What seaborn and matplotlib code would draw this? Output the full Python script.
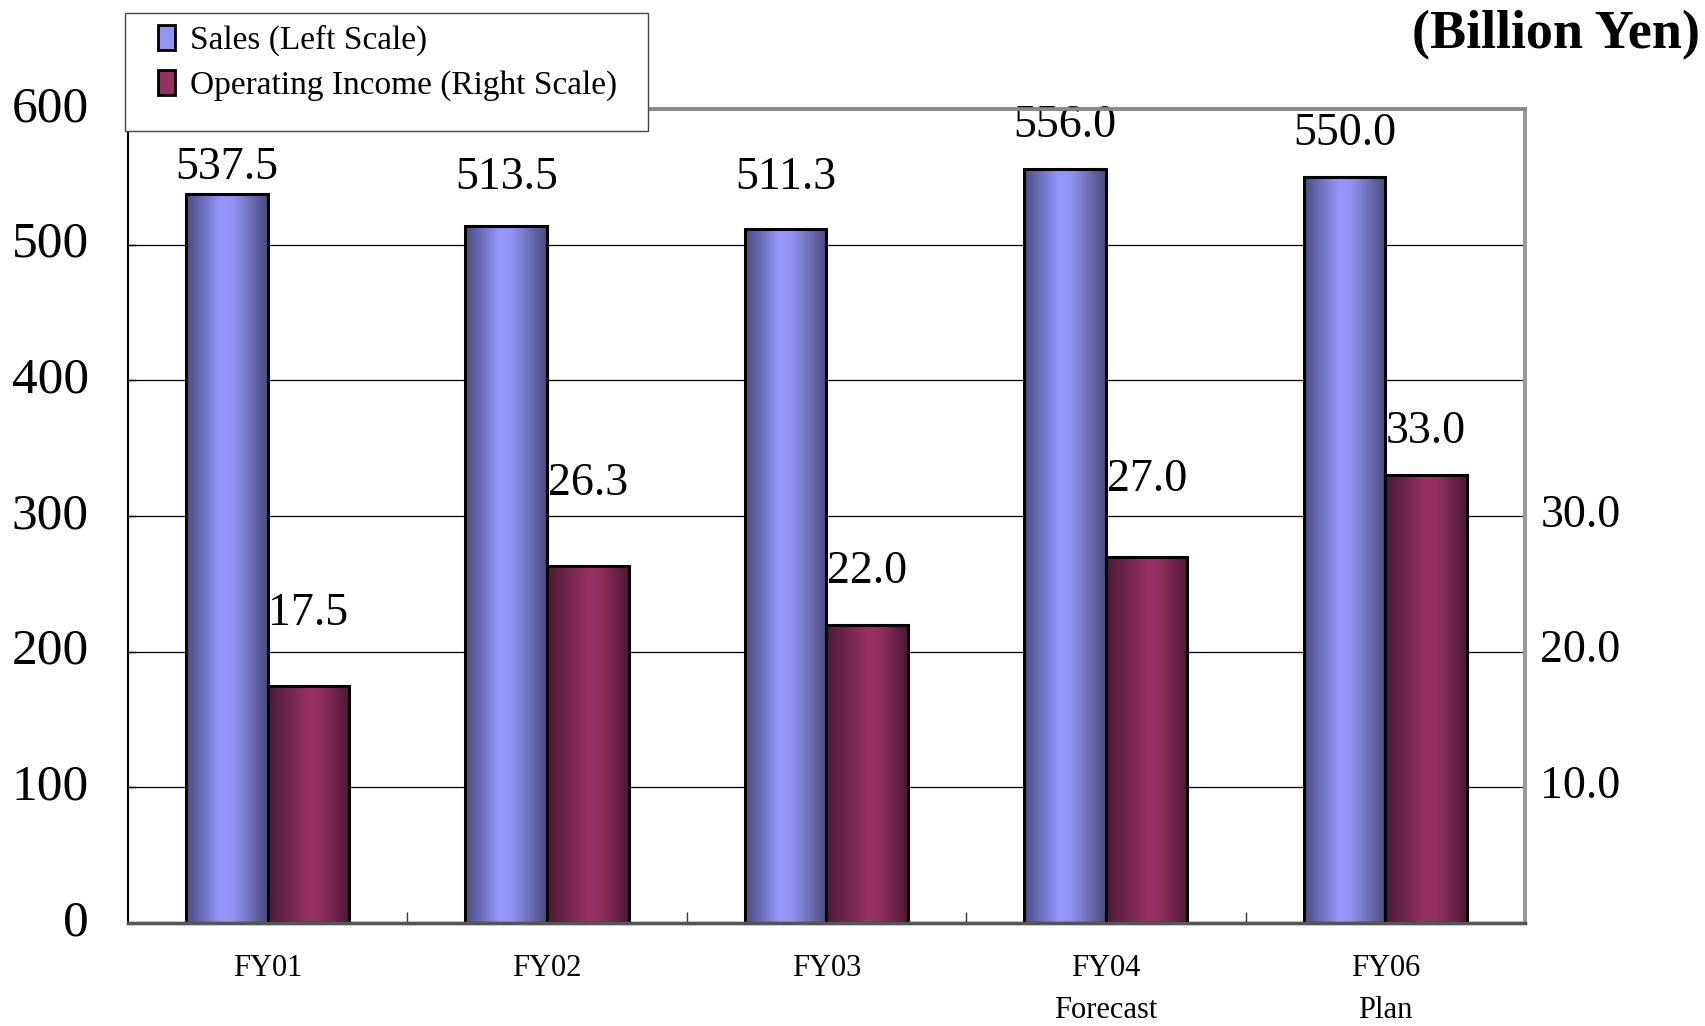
import numpy as np
import pandas as pd
import matplotlib
matplotlib.use("Agg")
import matplotlib.pyplot as plt
from matplotlib.colors import LinearSegmentedColormap
from matplotlib.patches import Rectangle, Patch
from matplotlib.transforms import ScaledTranslation
import seaborn as sns

# ---- data -------------------------------------------------------------
years = ["FY01", "FY02", "FY03", "FY04\nForecast", "FY06\nPlan"]
sales = [537.5, 513.5, 511.3, 556.0, 550.0]
operating_income = [17.5, 26.3, 22.0, 27.0, 33.0]
series_names = ["Sales (Left Scale)", "Operating Income (Right Scale)"]
left_ticks = [0, 100, 200, 300, 400, 500, 600]
right_ticks = [10.0, 20.0, 30.0]

# distance (pixels) from each bar top to the centre of its value label
sales_label_gap = [26, 49, 52, 43, 43]
income_label_gap = [72, 82, 53, 77, 44]

# ---- style ------------------------------------------------------------
sns.set_theme(style="white")
plt.rcParams["font.family"] = ["Liberation Serif", "DejaVu Serif"]
plt.rcParams.update({"text.color": "black", "axes.labelcolor": "black",
                     "xtick.color": "black", "ytick.color": "black"})

sales_cmap = LinearSegmentedColormap.from_list(
    "sales", [(0.0, "#4a4a82"), (0.42, "#9696fa"), (0.58, "#9292f2"), (1.0, "#4a4a7c")])
income_cmap = LinearSegmentedColormap.from_list(
    "income", [(0.0, "#4a1a36"), (0.5, "#973262"), (0.64, "#94305f"), (1.0, "#4a1934")])
palette = {series_names[0]: "#9494f5", series_names[1]: "#963060"}

df_sales = pd.DataFrame({"year": years, "value": sales, "series": series_names[0]})
df_income = pd.DataFrame({"year": years, "value": operating_income, "series": series_names[1]})

fig = plt.figure(figsize=(17.06, 10.26), dpi=100)
ax = fig.add_axes([0.0750, 0.1004, 0.8189, 0.7934])
ax2 = ax.twinx()

common = dict(x="year", y="value", hue="series", hue_order=series_names, order=years,
              palette=palette, width=0.584, gap=0, dodge=True, legend=False,
              edgecolor="black", linewidth=2.2)
sns.barplot(data=df_sales, ax=ax, **common)
sns.barplot(data=df_income, ax=ax2, **common)


def shade_bars(axis, cmap, z):
    """Fill every bar with a horizontal cylinder-like gradient."""
    grad = np.linspace(0, 1, 256).reshape(1, -1)
    bars = sorted([p for p in axis.patches if isinstance(p, Rectangle)], key=lambda p: p.get_x())
    for p in bars:
        x0, y0, w, h = p.get_x(), p.get_y(), p.get_width(), p.get_height()
        im = axis.imshow(grad, cmap=cmap, extent=[x0, x0 + w, y0, y0 + h],
                         aspect="auto", interpolation="bicubic", zorder=z)
        im.set_clip_path(p)
        p.set_facecolor("none")
        p.set_zorder(z + 0.1)
    return bars


sales_bars = shade_bars(ax, sales_cmap, 2)
income_bars = shade_bars(ax2, income_cmap, 2)

# ---- axes -------------------------------------------------------------
ax.set_xlim(-0.5, len(years) - 0.5)
ax.set_ylim(0, 600)
ax2.set_ylim(0, 60)

ax.set_yticks(left_ticks, labels=[str(t) for t in left_ticks])
ax.tick_params(axis="y", direction="in", length=6, width=1, color="black",
               labelcolor="black", labelsize=37, pad=28, left=True)
ax.set_xticks(range(len(years)), labels=years)
ax.tick_params(axis="x", which="major", length=0, labelsize=22, pad=22, labelcolor="black")
ax.set_xticks([i + 0.5 for i in range(len(years) - 1)], minor=True)
ax.tick_params(axis="x", which="minor", direction="in", length=8, width=1,
               color="#333333", bottom=True)
for lbl in ax.get_xticklabels():
    lbl.set_linespacing(1.6)

ax2.set_yticks(right_ticks, labels=[f"{t:.1f}" for t in right_ticks])
ax2.tick_params(axis="y", length=0, labelsize=33, pad=11, labelcolor="black")
ax2.grid(False)

# nudge the value-axis labels slightly upward
lift = ScaledTranslation(0, 4 / 72, fig.dpi_scale_trans)
for lbl in ax.get_yticklabels() + ax2.get_yticklabels():
    lbl.set_transform(lbl.get_transform() + lift)

ax.yaxis.grid(True, color="black", linewidth=0.9)
ax.xaxis.grid(False)
ax.set_axisbelow(True)
for a in (ax, ax2):
    a.set_xlabel("")
    a.set_ylabel("")

ax.spines["left"].set(color="black", linewidth=1.5)
ax.spines["bottom"].set(color="#555555", linewidth=2.4)
ax.spines["top"].set(color="#8a8a8a", linewidth=2.6)
ax.spines["right"].set(color="#999999", linewidth=2.6)
ax2.spines["right"].set(color="#999999", linewidth=2.6)
ax2.spines["top"].set(color="#8a8a8a", linewidth=2.6)
ax2.spines["left"].set_visible(False)
ax2.spines["bottom"].set(color="#555555", linewidth=2.4)

# ---- value labels -----------------------------------------------------
for p, v, gap in zip(sales_bars, sales, sales_label_gap):
    ax.annotate(f"{v:.1f}", xy=(p.get_x() + p.get_width() / 2, v), xytext=(0, gap),
                textcoords="offset pixels", ha="center", va="center", fontsize=33,
                color="black", zorder=5)
for p, v, gap in zip(income_bars, operating_income, income_label_gap):
    ax2.annotate(f"{v:.1f}", xy=(p.get_x() + p.get_width() / 2, v), xytext=(0, gap),
                 textcoords="offset pixels", ha="center", va="center", fontsize=33,
                 color="black", zorder=5)

# ---- unit caption -----------------------------------------------------
fig.text(0.9965, 0.966, "(Billion Yen)", ha="right", va="center",
         fontsize=39, fontweight="bold", color="black")

# ---- legend -----------------------------------------------------------
frame = Rectangle((125 / 1706, 1 - 131 / 1026), 523 / 1706, 118 / 1026,
                  transform=fig.transFigure, facecolor="white", edgecolor="#444444",
                  linewidth=1.0, zorder=10)
fig.add_artist(frame)
handles = [Patch(facecolor=palette[s], edgecolor="black", linewidth=2.0, label=s)
           for s in series_names]
leg = fig.legend(handles=handles, loc="upper left", bbox_to_anchor=(158 / 1706, 1 - 25 / 1026),
                 frameon=False, fontsize=24, handlelength=0.5, handleheight=0.75,
                 handletextpad=0.45, labelspacing=0.42, borderpad=0, borderaxespad=0,
                 labelcolor="black")
leg.set_zorder(11)

fig.savefig("out.png", dpi=100)
